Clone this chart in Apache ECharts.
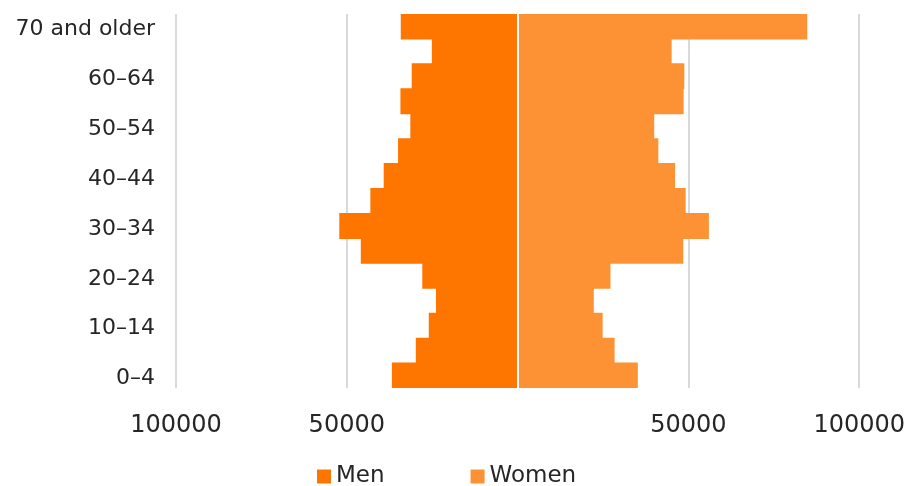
<!DOCTYPE html>
<html>
<head>
<meta charset="utf-8">
<script src="https://cdn.jsdelivr.net/npm/echarts@6/dist/echarts.min.js"></script>
<style>
  html, body { margin: 0; padding: 0; background: #fff; }
  #chart { width: 908px; height: 486px; }
</style>
</head>
<body>
<div id="chart"></div>
<script>
// Age groups, youngest first (drawn bottom to top)
const ageGroups = ['0–4', '5–9', '10–14', '15–19', '20–24', '25–29', '30–34', '35–39',
  '40–44', '45–49', '50–54', '55–59', '60–64', '65–69', '70 and older'];

// Population by age group
const men = [36800, 29800, 26000, 23900, 27900, 45900, 52200, 43100,
  39200, 35000, 31400, 34300, 31000, 25100, 34200];
const women = [35200, 28400, 24900, 22300, 27200, 48500, 56000, 49200,
  46100, 41200, 40000, 48600, 48800, 45100, 84800];

const seriesNames = ['Men', 'Women'];
const axisTicks = [-100000, -50000, 0, 50000, 100000];

const FONT = 'DejaVu Sans';
const TEXT = '#262626';
const MEN_COLOR = '#fe7600';
const WOMEN_COLOR = '#fd9235';

const chart = echarts.init(document.getElementById('chart'));
chart.setOption({
  animation: false,
  textStyle: { fontFamily: FONT },
  grid: { left: 176, right: 48, top: 14, bottom: 98, containLabel: false },
  legend: {
    data: seriesNames,
    left: 317,
    top: 465,
    padding: 0,
    itemWidth: 14,
    itemHeight: 14,
    itemGap: 86,
    icon: 'rect',
    textStyle: { fontFamily: FONT, fontSize: 23, color: TEXT }
  },
  xAxis: {
    type: 'value',
    min: axisTicks[0],
    max: axisTicks[axisTicks.length - 1],
    interval: 50000,
    axisLine: { show: false },
    axisTick: { show: false },
    splitLine: { lineStyle: { color: '#d9d9d9', width: 2 } },
    axisLabel: {
      margin: 26,
      fontFamily: FONT,
      fontSize: 24,
      color: TEXT,
      formatter: v => (v === 0 ? '' : String(Math.abs(v)))
    }
  },
  yAxis: {
    type: 'category',
    data: ageGroups,
    z: 5,
    axisLine: { show: true, onZero: true, lineStyle: { color: '#ffffff', width: 2 } },
    axisTick: { show: false },
    axisLabel: {
      interval: 1,
      margin: 21,
      color: TEXT,
      formatter: v => '{a|' + v + '}',
      rich: {
        a: {
          fontFamily: FONT,
          fontSize: 22,
          color: TEXT,
          padding: [6, 0, 0, 0]
        }
      }
    }
  },
  series: [
    {
      name: seriesNames[0],
      type: 'bar',
      data: men.map(v => -v),
      barWidth: '104%',
      barGap: '-100%',
      itemStyle: { color: MEN_COLOR }
    },
    {
      name: seriesNames[1],
      type: 'bar',
      data: women,
      barWidth: '104%',
      barGap: '-100%',
      itemStyle: { color: WOMEN_COLOR }
    }
  ]
});
</script>
</body>
</html>
